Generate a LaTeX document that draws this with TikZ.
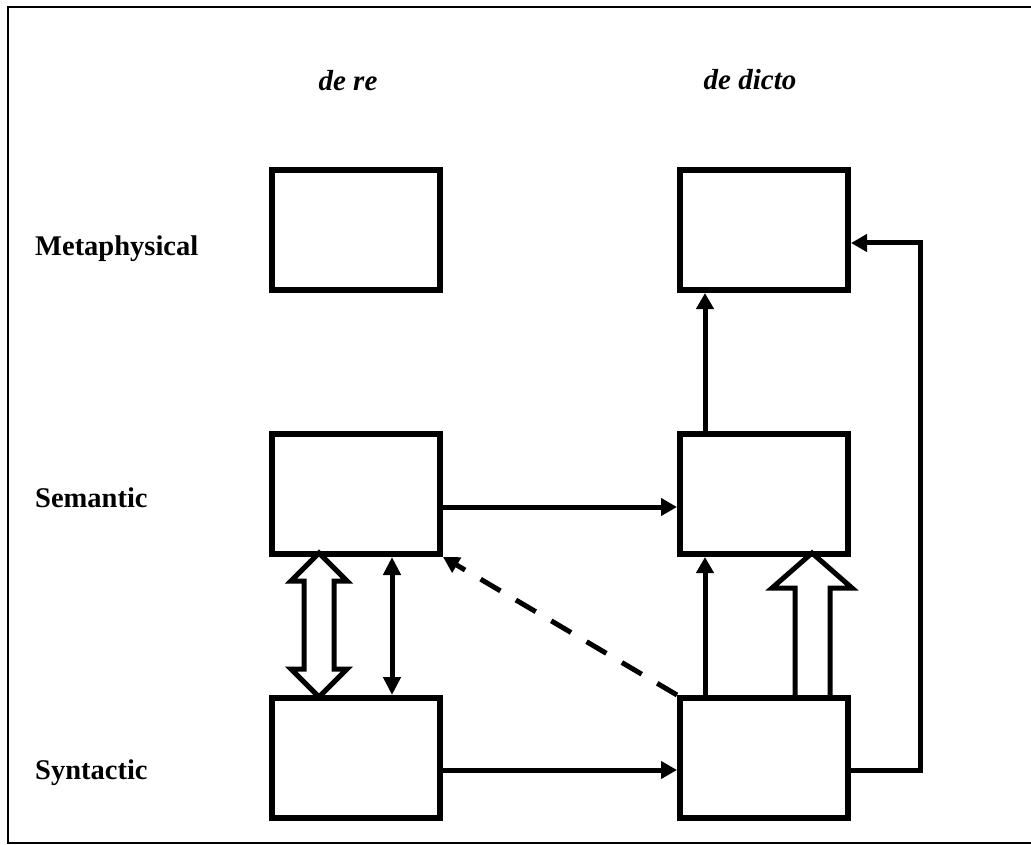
\documentclass[tikz,border=0pt]{standalone}
\usepackage{fontspec}
\setmainfont{Liberation Serif}
\usetikzlibrary{arrows.meta,calc}

\tikzset{
  cell/.style={draw, line width=6pt, minimum width=168pt, minimum height=120pt, inner sep=0pt},
  rowlabel/.style={anchor=base west, font=\fontsize{28.5}{30}\selectfont\bfseries, inner sep=0pt},
  collabel/.style={anchor=base, font=\fontsize{29}{31}\selectfont\bfseries\itshape, inner sep=0pt},
  arr/.style={line width=5pt, -{Triangle[length=16pt,width=17pt]}},
  biarr/.style={line width=5pt, {Triangle[length=18pt,width=17pt]}-{Triangle[length=18pt,width=17pt]}},
  dasharr/.style={arr, dash pattern=on 23pt off 18pt},
  hollow/.style={line width=5pt, line join=miter},
  frame/.style={line width=2pt}
}

\begin{document}
\begin{tikzpicture}[x=1pt, y=-1pt]
  \useasboundingbox (0,0) rectangle (1031,845);

  % outer frame (open on the right)
  \draw[frame] (1031,7) -- (8,7) -- (8,843) -- (1031,843);

  % column and row headings
  \node[collabel] (hre) at (348,91) {de re};
  \node[collabel] (hdicto) at (750,90) {de dicto};
  \node[rowlabel] (lmeta) at (35,255) {Metaphysical};
  \node[rowlabel] (lsem) at (35,507) {Semantic};
  \node[rowlabel] (lsyn) at (35,779) {Syntactic};

  % the six cells
  \node[cell] (metar) at (356,230) {};
  \node[cell] (metad) at (764,230) {};
  \node[cell] (semr)  at (356,494) {};
  \node[cell] (semd)  at (764,494) {};
  \node[cell] (synr)  at (356,758) {};
  \node[cell] (synd)  at (764,758) {};

  % horizontal connectors
  \draw[arr] ([yshift=-13pt]semr.east) -- ([yshift=-13pt]semd.west);
  \draw[arr] ([yshift=-12pt]synr.east) -- ([yshift=-12pt]synd.west);

  % vertical connectors in the de dicto column
  \draw[arr] ([xshift=-59pt]semd.north) -- ([xshift=-59pt]metad.south);
  \draw[arr] ([xshift=-59pt]synd.north) -- ([xshift=-59pt]semd.south);

  % loop from syntactic to metaphysical
  \coordinate (loop) at (920,243);
  \draw[arr] ([yshift=-12pt]synd.east) -| (loop) -- ([yshift=-13pt]metad.east);

  % dashed diagonal
  \draw[dasharr] (synd.north west) -- (semr.south east);

  % thin two-headed connector
  \draw[biarr] ([xshift=36pt]semr.south) -- ([xshift=36pt]synr.north);

  % hollow two-headed arrow between de re cells
  \draw[hollow] (319,553) -- (347,581) -- (334,581) -- (334,669) -- (347,669)
     -- (319,697) -- (291,669) -- (304,669) -- (304,581) -- (291,581) -- cycle;

  % hollow upward arrow in the de dicto column
  \draw[hollow] (795,698) -- (795,588) -- (772,588) -- (812,553) -- (852,588)
     -- (830,588) -- (830,698);
\end{tikzpicture}
\end{document}
